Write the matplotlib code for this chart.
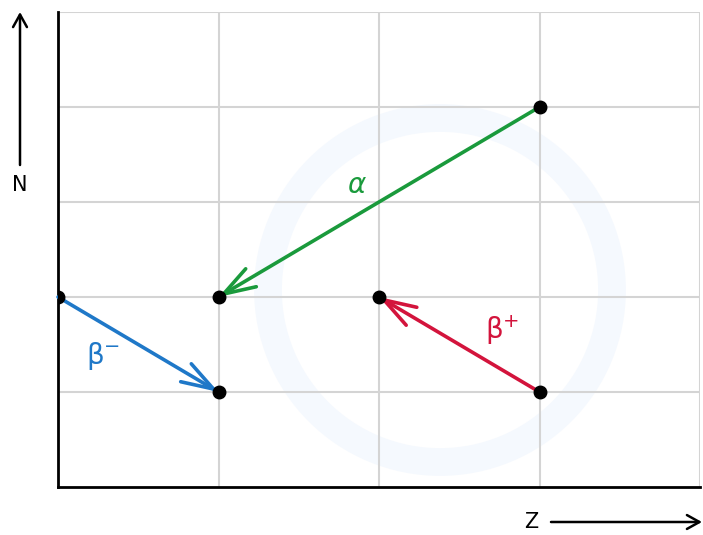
import matplotlib
matplotlib.use("Agg")
import matplotlib.pyplot as plt
from matplotlib.patches import Circle

# Data
points_z = [0, 1, 1, 2, 3, 3]
points_n = [2, 2, 1, 2, 1, 4]

arrow_names = ["alpha", "beta_minus", "beta_plus"]
arrow_start = [(3, 4), (0, 2), (3, 1)]
arrow_end = [(1, 2), (1, 1), (2, 2)]
arrow_colors = ["#1a9a3c", "#1f78c8", "#d3143c"]
arrow_labels = [r"$\alpha$", r"β$^{-}$", r"β$^{+}$"]
label_pos = [(1.86, 3.18), (0.28, 1.38), (2.77, 1.65)]

fig = plt.figure(figsize=(7.03, 5.35), dpi=100)
ax = fig.add_axes([58/703, 1-487/535, (700-58)/703, (487-12)/535])
ax.set_xlim(0, 4)
ax.set_ylim(0, 5)

# faint watermark ring (display inches)
ring = Circle((4.40, 2.45), 1.72, transform=fig.dpi_scale_trans, fill=False,
              ec="#f5f9fe", lw=20, zorder=0)
ax.add_patch(ring)

for x in [1, 2, 3, 4]:
    ax.axvline(x, color="#d4d4d4", lw=1.5, zorder=1)
for y in [1, 2, 3, 4, 5]:
    ax.axhline(y, color="#d4d4d4", lw=1.5, zorder=1)

for s in ["top", "right"]:
    ax.spines[s].set_visible(False)
for s in ["left", "bottom"]:
    ax.spines[s].set_linewidth(2)
    ax.spines[s].set_color("black")
ax.set_xticks([])
ax.set_yticks([])

for (x0, y0), (x1, y1), c in zip(arrow_start, arrow_end, arrow_colors):
    ax.annotate("", xy=(x1, y1), xytext=(x0, y0),
                arrowprops=dict(arrowstyle="->,head_length=2.3,head_width=0.75",
                                color=c, lw=2.6, shrinkA=0, shrinkB=0),
                zorder=3)

for (lx, ly), t, c in zip(label_pos, arrow_labels, arrow_colors):
    ax.text(lx, ly, t, color=c, fontsize=20, ha="center", va="center", zorder=4)

ax.plot(points_z, points_n, "o", color="black", markersize=9, zorder=5)

# Axis direction arrows (pixel overlay)
ax_n = fig.add_axes([0, 0, 1, 1], facecolor="none")
ax_n.set_xlim(0, 703)
ax_n.set_ylim(535, 0)
ax_n.axis("off")
ax_n.annotate("", xy=(20, 12), xytext=(20, 165),
              arrowprops=dict(arrowstyle="->,head_length=0.9,head_width=0.5",
                              color="black", lw=1.8, shrinkA=0, shrinkB=0))
ax_n.text(20, 185, "N", fontsize=15, ha="center", va="center")
ax_n.annotate("", xy=(702, 522), xytext=(551, 522),
              arrowprops=dict(arrowstyle="->,head_length=0.9,head_width=0.5",
                              color="black", lw=1.8, shrinkA=0, shrinkB=0))
ax_n.text(531, 522, "Z", fontsize=15, ha="center", va="center")

fig.savefig("out.png", dpi=100)
